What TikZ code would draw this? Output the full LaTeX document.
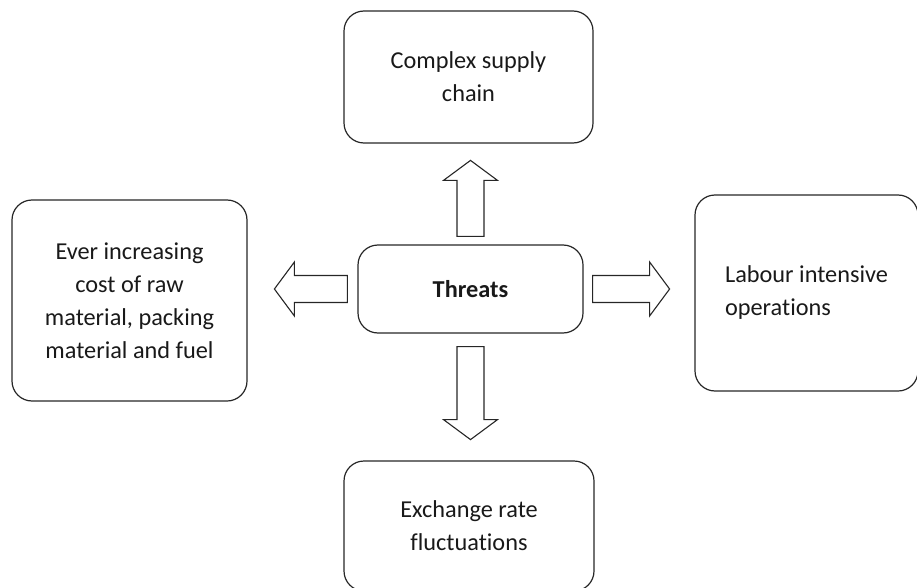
\documentclass[tikz,border=0pt]{standalone}
\usepackage{fontspec}
\setmainfont{Carlito}[Ligatures=NoCommon]
\begin{document}
\begin{tikzpicture}[x=1pt,y=-1pt,
 box/.style={draw=black!85,line width=1.2pt,rounded corners=20pt,inner sep=0pt,align=center,text=black!90,font=\fontsize{24.3}{33}\selectfont},
 pics/blockarrow/.style={code={
  \draw[black!85,line width=1.1pt,line join=miter] (0,-13.5)--({#1-20},-13.5)--({#1-20},-27)--(#1,0)--({#1-20},27)--({#1-20},13.5)--(0,13.5)--cycle;}}]
 \useasboundingbox (0,0) rectangle (917,588);
 % the boxes
 \node[box,minimum width=249pt,minimum height=132pt] (supply) at (468.5,77) {Complex supply\\chain};
 \node[box,minimum width=235pt,minimum height=201pt] (cost) at (129.5,300.5) {Ever increasing\\cost of raw\\material, packing\\material and fuel};
 \node[box,minimum width=225pt,minimum height=88pt] (threats) at (470.5,289) {\bfseries Threats};
 \node[box,minimum width=223pt,minimum height=196pt,align=left] (labour) at (806.5,293) {Labour intensive\\operations};
 \node[box,minimum width=250pt,minimum height=130pt] (exchange) at (469,526) {Exchange rate\\fluctuations};
 % block arrows
 \pic[rotate=90] at ([yshift=8pt]threats.north) {blockarrow=76};
 \pic[rotate=-90] at ([yshift=-13pt]threats.south) {blockarrow=93};
 \pic[rotate=180] at ([xshift=-10pt]threats.west) {blockarrow=73};
 \pic at ([xshift=9pt]threats.east) {blockarrow=77};
\end{tikzpicture}
\end{document}
